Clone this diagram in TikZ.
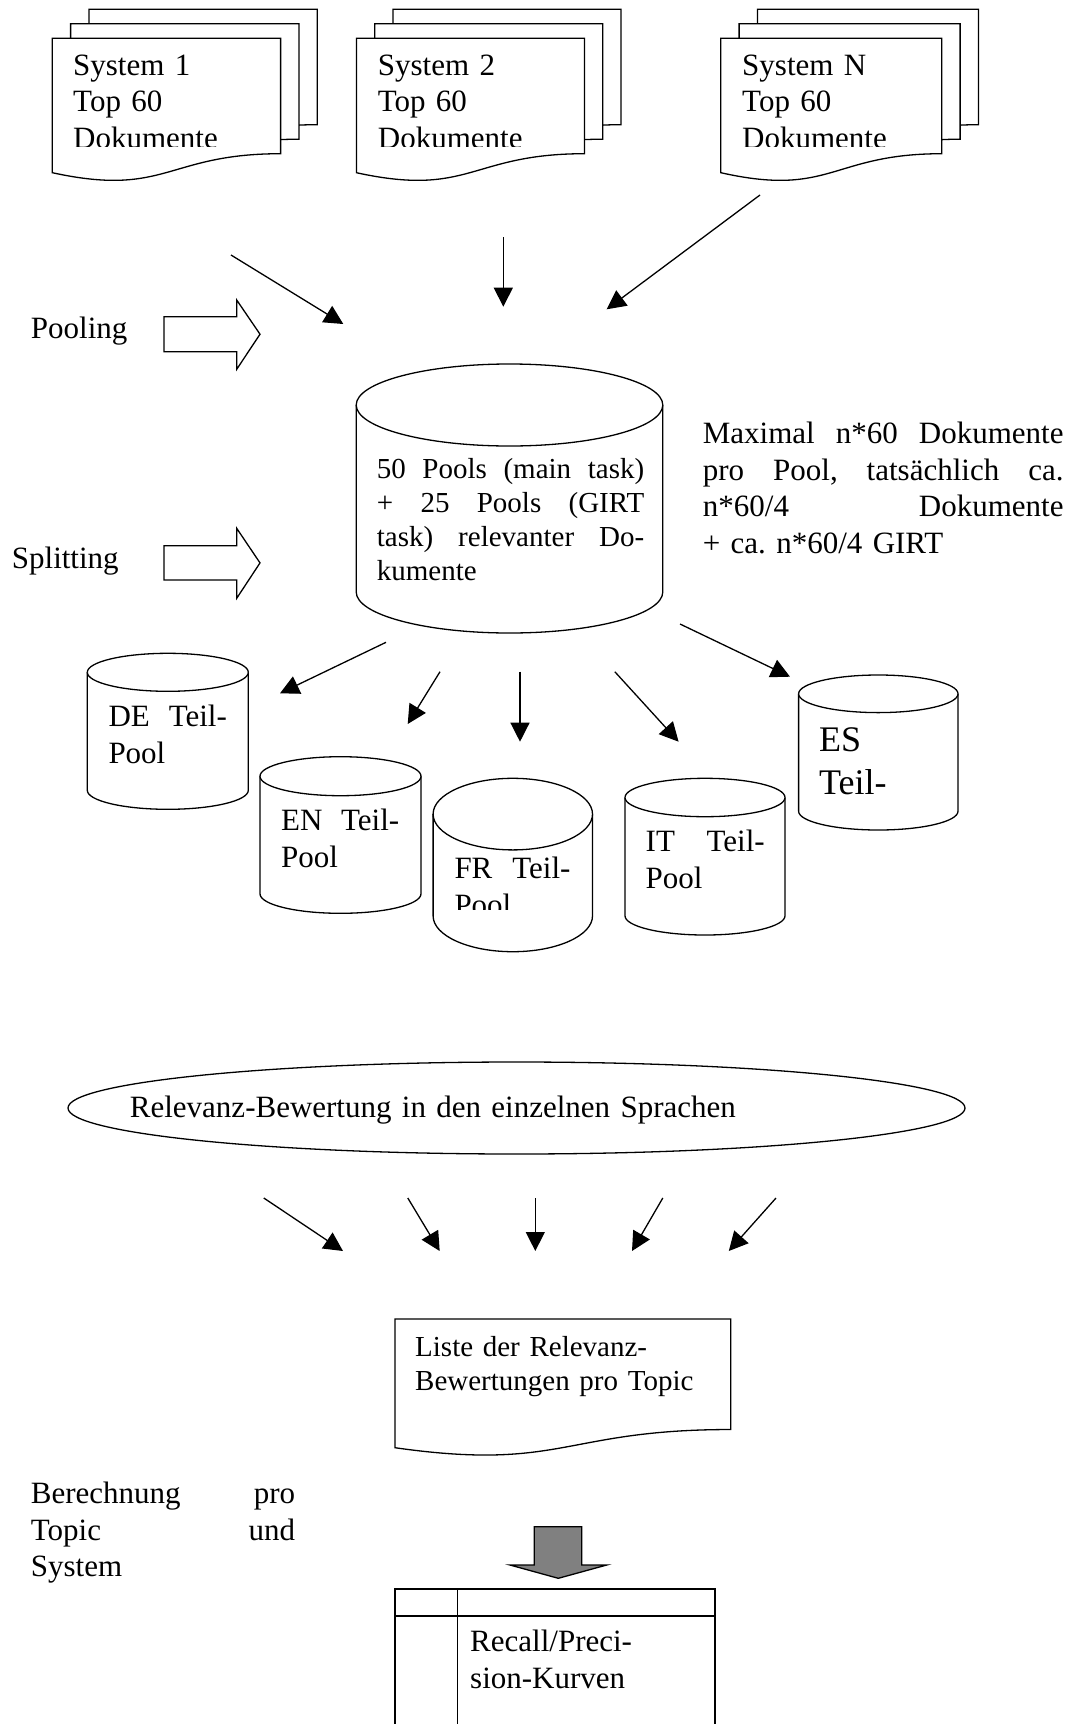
\documentclass[tikz,border=0pt]{standalone}
\usepackage{fontspec}
\setmainfont{Liberation Serif}
\usetikzlibrary{arrows.meta}
\frenchspacing

% one page with wavy bottom: x, y (top left), width, height
\newcommand{\docpage}[4]{%
  \draw[page] (#1,#2) -- (#1+#3,#2) -- (#1+#3,#2+0.802*#4)
    .. controls (#1+0.5*#3,#2+0.802*#4) and (#1+0.5*#3,#2+1.107*#4) .. (#1,#2+0.934*#4) -- cycle;}
% three stacked pages: x, y, width of the front page
\newcommand{\docstack}[3]{%
  \docpage{#1+36.6}{#2-29}{#3}{143.9}
  \docpage{#1+18.3}{#2-14.5}{#3}{143.9}
  \docpage{#1}{#2}{#3}{143.9}}
% cylinder: centre x, top, bottom, x radius, y radius
\newcommand{\poolcyl}[5]{%
  \draw[page] (#1-#4,#3-#5) arc[start angle=180, end angle=360, x radius=#4pt, y radius=#5pt]
    -- (#1+#4,#2+#5) arc[start angle=0, end angle=180, x radius=#4pt, y radius=#5pt] -- cycle;
  \draw[page] (#1-#4,#2+#5) arc[start angle=180, end angle=360, x radius=#4pt, y radius=#5pt];}

\begin{document}
\begin{tikzpicture}[
          x=1pt, y=-1pt,
          font=\fontsize{31}{36.8}\selectfont,
          page/.style={draw, fill=white, line width=1.3pt, line join=miter},
          txt/.style={inner sep=0pt, anchor=base west, align=left, text width=#1},
          txt/.default=300pt,
          small/.style={font=\fontsize{29}{34}\selectfont},
          large/.style={font=\fontsize{36}{43}\selectfont},
          arrow/.style={-{Triangle[length=19pt, width=19pt]}, line width=1.3pt},
          blockarrow/.style={draw, line width=1.3pt, line join=miter}
        ]
        \path[use as bounding box, fill=white] (0,0) rectangle (1075,1724);

        % -------- System result lists --------
        \docstack{52.3}{38.3}{228.3}
        \docstack{356.4}{38.3}{228}
        \docstack{720.8}{38.3}{221}
        \begin{scope}
          \clip (0,0) rectangle (1075,146.5);
          \node[txt=200pt] (sys1) at (73,75) {System 1\\Top 60\\Dokumente};
          \node[txt=200pt] (sys2) at (377.7,75) {System 2\\Top 60\\Dokumente};
          \node[txt=190pt] (sysN) at (742,75) {System N\\Top 60\\Dokumente};
        \end{scope}

        % -------- Pooling --------
        \coordinate (poolA1) at (231,255);
        \coordinate (poolA2) at (343.3,324);
        \coordinate (poolB1) at (503.3,237.3);
        \coordinate (poolB2) at (503.3,306.7);
        \coordinate (poolC1) at (760,195);
        \coordinate (poolC2) at (606.7,309.3);
        \draw[arrow] (poolA1) -- (poolA2);
        \draw[arrow] (poolB1) -- (poolB2);
        \draw[arrow] (poolC1) -- (poolC2);

        \node[txt=150pt] (pooling) at (30.7,338.3) {Pooling};
        \draw[blockarrow] (164,316.7) -- (236.7,316.7) -- (236.7,300) -- (260,334.2)
          -- (236.7,369.3) -- (236.7,351.7) -- (164,351.7) -- cycle;

        % -------- Main pool --------
        \poolcyl{509.5}{364}{633}{153.3}{41}
        \node[txt=267.3pt, small] (poolmain) at (376.7,478)
          {50\hfill Pools\hfill (main\hfill task)\\+\hfill 25\hfill Pools\hfill (GIRT\\task)\hfill relevanter\hfill Do-\\kumente};
        \node[txt=360.6pt] (maxnote) at (702.7,443.3)
          {Maximal\hfill n*60\hfill Dokumente\\pro\hfill Pool,\hfill tatsächlich\hfill ca.\\n*60/4\hfill Dokumente\\+ ca. n*60/4 GIRT};

        % -------- Splitting --------
        \node[txt=150pt] (splitting) at (11.7,568.3) {Splitting};
        \draw[blockarrow] (164,545.7) -- (236.7,545.7) -- (236.7,528.3) -- (260,562.9)
          -- (236.7,598.3) -- (236.7,580) -- (164,580) -- cycle;

        \coordinate (splitDE1) at (386,642.3);
        \coordinate (splitDE2) at (280,693.3);
        \coordinate (splitEN1) at (440,671.7);
        \coordinate (splitEN2) at (407.7,724);
        \coordinate (splitFR1) at (520,671.7);
        \coordinate (splitFR2) at (520,741.7);
        \coordinate (splitIT1) at (614.8,671.7);
        \coordinate (splitIT2) at (678.6,741.7);
        \coordinate (splitES1) at (680,624);
        \coordinate (splitES2) at (790,676.7);
        \draw[arrow] (splitDE1) -- (splitDE2);
        \draw[arrow] (splitEN1) -- (splitEN2);
        \draw[arrow] (splitFR1) -- (splitFR2);
        \draw[arrow] (splitIT1) -- (splitIT2);
        \draw[arrow] (splitES1) -- (splitES2);

        % -------- Language pools --------
        \poolcyl{167.8}{653.3}{809.3}{80.5}{19}
        \node[txt=118.4pt] (dePool) at (108.3,726.7) {DE\hfill Teil-\\Pool};
        \poolcyl{340.5}{756.7}{913.3}{80.5}{19.5}
        \node[txt=118pt] (enPool) at (281,830.7) {EN\hfill Teil-\\Pool};
        \poolcyl{512.8}{778.3}{951.7}{79.7}{35.8}
        \begin{scope}
          \clip (433,778) rectangle (593,909.5);
          \node[txt=116pt] (frPool) at (454.3,878.3) {FR\hfill Teil-\\Pool};
        \end{scope}
        \poolcyl{705}{778.3}{935}{80}{19.2}
        \node[txt=119pt] (itPool) at (645.5,851.7) {IT\hfill Teil-\\Pool};
        \poolcyl{878.3}{675}{830}{79.7}{18.8}
        \node[txt=118pt, large] (esPool) at (819,751.7) {ES\\Teil-};

        % -------- Assessment --------
        \draw[page] (516.5,1108) ellipse [x radius=448.5pt, y radius=46pt];
        \node[txt=700pt] (relevanz) at (129.7,1117) {Relevanz-Bewertung in den einzelnen Sprachen};

        \coordinate (rel1a) at (263.8,1198);
        \coordinate (rel1b) at (343,1251);
        \coordinate (rel2a) at (407.8,1198);
        \coordinate (rel2b) at (439.7,1251);
        \coordinate (rel3a) at (535.3,1198);
        \coordinate (rel3b) at (535.3,1251);
        \coordinate (rel4a) at (662.8,1198);
        \coordinate (rel4b) at (632,1251);
        \coordinate (rel5a) at (776,1198);
        \coordinate (rel5b) at (728.8,1251);
        \draw[arrow] (rel1a) -- (rel1b);
        \draw[arrow] (rel2a) -- (rel2b);
        \draw[arrow] (rel3a) -- (rel3b);
        \draw[arrow] (rel4a) -- (rel4b);
        \draw[arrow] (rel5a) -- (rel5b);

        % -------- Result list and evaluation --------
        \docpage{395}{1319}{335.7}{137.8}
        \node[txt=300pt, small] (liste) at (415,1356.5) {Liste der Relevanz-\\Bewertungen pro Topic};

        \node[txt=264.3pt] (berechnung) at (30.7,1503.3) {Berechnung\hfill pro\\Topic\hfill und\\System};
        \draw[blockarrow, fill=gray] (534.3,1526.7) -- (581.7,1526.7) -- (581.7,1565) -- (606.7,1565)
          -- (558.3,1578.3) -- (510,1565) -- (534.3,1565) -- cycle;

        \draw[page, fill=none] (395,1724) -- (395,1589) -- (715,1589) -- (715,1724);
        \draw[page] (395,1616) -- (715,1616);
        \draw[page] (457.7,1589) -- (457.7,1724);
        \node[txt=230pt] (recall) at (470,1651.7) {Recall/Preci-\\sion-Kurven};

      \end{tikzpicture}
\end{document}
